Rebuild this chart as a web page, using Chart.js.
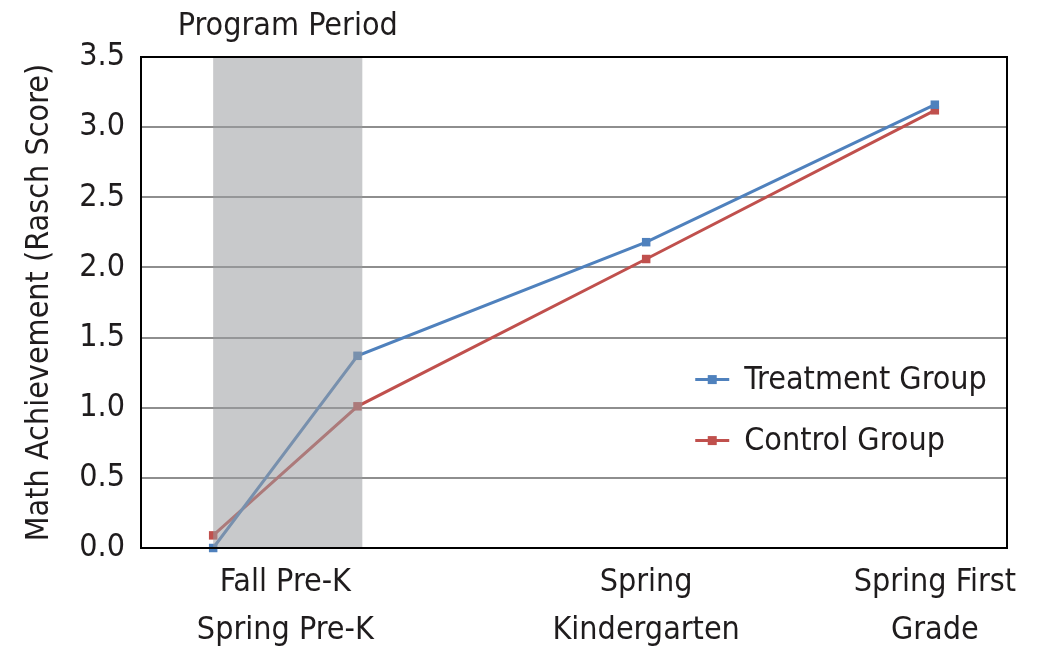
<!DOCTYPE html>
<html>
<head>
<meta charset="utf-8">
<script src="https://cdn.jsdelivr.net/npm/chart.js@4"></script>
<style>
  html, body { margin: 0; padding: 0; background: #fff; }
  #wrap { width: 1048px; height: 651px; position: relative; }
</style>
</head>
<body>
<div id="wrap"><canvas id="chart"></canvas></div>
<script>
// ── Data ──────────────────────────────────────────────────────────────────────
// x values are months since Fall Pre-K
const timepoints = [0, 6, 18, 30];
const treatment  = [0.00, 1.37, 2.18, 3.16];
const control    = [0.09, 1.01, 2.06, 3.12];
const seriesNames = ['Treatment Group', 'Control Group'];

const xTickValues = [3, 18, 30];
const xTickLabels = [['Fall Pre-K', 'Spring Pre-K'], ['Spring', 'Kindergarten'], ['Spring First', 'Grade']];
const yTickValues = [0, 0.5, 1, 1.5, 2, 2.5, 3, 3.5];

const programPeriod = [0, 6.2];
const programLabel = 'Program Period';
const yTitle = 'Math Achievement (Rasch Score)';

// ── Theme ─────────────────────────────────────────────────────────────────────
const C = {
  blue: '#4f81bd',
  red:  '#c0504d',
  grid: '#8e8e8e',
  text: '#1f1c1d',
  shade: 'rgba(155,157,160,0.55)',
  font: "'Liberation Sans Narrow', 'DejaVu Sans Condensed', 'Arial Narrow', sans-serif"
};
const FS = 32;

const toXY = vals => vals.map((v, i) => ({ x: timepoints[i], y: v }));

// shaded program period drawn on top of lines (mutes them like the original)
const shadePlugin = {
  id: 'shade',
  afterDatasetsDraw(chart) {
    const { ctx, chartArea: a, scales: { x } } = chart;
    const x0 = x.getPixelForValue(programPeriod[0]);
    const x1 = x.getPixelForValue(programPeriod[1]);
    ctx.save();
    ctx.fillStyle = C.shade;
    ctx.fillRect(x0, a.top, x1 - x0, a.bottom - a.top);
    ctx.fillStyle = C.text;
    ctx.font = `${FS}px ${C.font}`;
    ctx.textAlign = 'center';
    ctx.textBaseline = 'middle';
    ctx.fillText(programLabel, (x0 + x1) / 2, a.top - 30);
    // frame
    ctx.strokeStyle = '#000';
    ctx.lineWidth = 2;
    ctx.strokeRect(a.left, a.top, a.right - a.left, a.bottom - a.top);
    ctx.restore();
  }
};

// legend inside plot area
const legendPlugin = {
  id: 'inLegend',
  afterDraw(chart) {
    const { ctx, chartArea: a } = chart;
    const sx = a.left + (a.right - a.left) * 0.64;
    const sy = a.top + (a.bottom - a.top) * 0.657;
    const gap = 61;
    ctx.save();
    ctx.font = `${FS}px ${C.font}`;
    ctx.textBaseline = 'middle';
    ctx.textAlign = 'left';
    chart.data.datasets.forEach((ds, i) => {
      const y = sy + i * gap;
      ctx.strokeStyle = ds.borderColor;
      ctx.lineWidth = 3;
      ctx.beginPath();
      ctx.moveTo(sx, y);
      ctx.lineTo(sx + 34, y);
      ctx.stroke();
      ctx.fillStyle = ds.borderColor;
      ctx.fillRect(sx + 17 - 4.5, y - 4.5, 9, 9);
      ctx.fillStyle = C.text;
      ctx.fillText(ds.label, sx + 49, y + 1);
    });
    ctx.restore();
  }
};

new Chart(document.getElementById('chart'), {
  type: 'line',
  data: {
    datasets: [
      {
        label: seriesNames[0],
        data: toXY(treatment),
        borderColor: C.blue, backgroundColor: C.blue,
        borderWidth: 3, pointStyle: 'rect', pointRadius: 6,
        pointBorderWidth: 0, tension: 0, clip: false
      },
      {
        label: seriesNames[1],
        data: toXY(control),
        borderColor: C.red, backgroundColor: C.red,
        borderWidth: 3, pointStyle: 'rect', pointRadius: 6,
        pointBorderWidth: 0, tension: 0, clip: false
      }
    ]
  },
  options: {
    responsive: true, maintainAspectRatio: false, animation: false,
    layout: { padding: { top: 57, right: 41, left: 0, bottom: 0 } },
    plugins: { legend: { display: false }, tooltip: { enabled: false } },
    scales: {
      x: {
        type: 'linear', min: -3, max: 33,
        afterFit: s => { s.height = 103; },
        afterBuildTicks: s => { s.ticks = xTickValues.map(v => ({ value: v })); },
        grid: { display: false, drawTicks: false },
        border: { display: false },
        ticks: {
          autoSkip: false, maxRotation: 0, padding: 11,
          color: C.text, font: { family: C.font, size: FS, lineHeight: 1.5 },
          callback: v => xTickLabels[xTickValues.indexOf(v)]
        }
      },
      y: {
        min: 0, max: 3.5,
        afterFit: s => { s.width = 141; },
        afterBuildTicks: s => { s.ticks = yTickValues.map(v => ({ value: v })); },
        grid: { color: C.grid, lineWidth: 2, drawTicks: false },
        border: { display: false },
        ticks: {
          padding: 16, color: C.text,
          font: { family: C.font, size: FS },
          callback: v => v.toFixed(1)
        },
        title: {
          display: true, text: yTitle, color: C.text,
          font: { family: C.font, size: FS },
          padding: { top: 20, bottom: 0 }
        }
      }
    }
  },
  plugins: [shadePlugin, legendPlugin]
});
</script>
</body>
</html>
